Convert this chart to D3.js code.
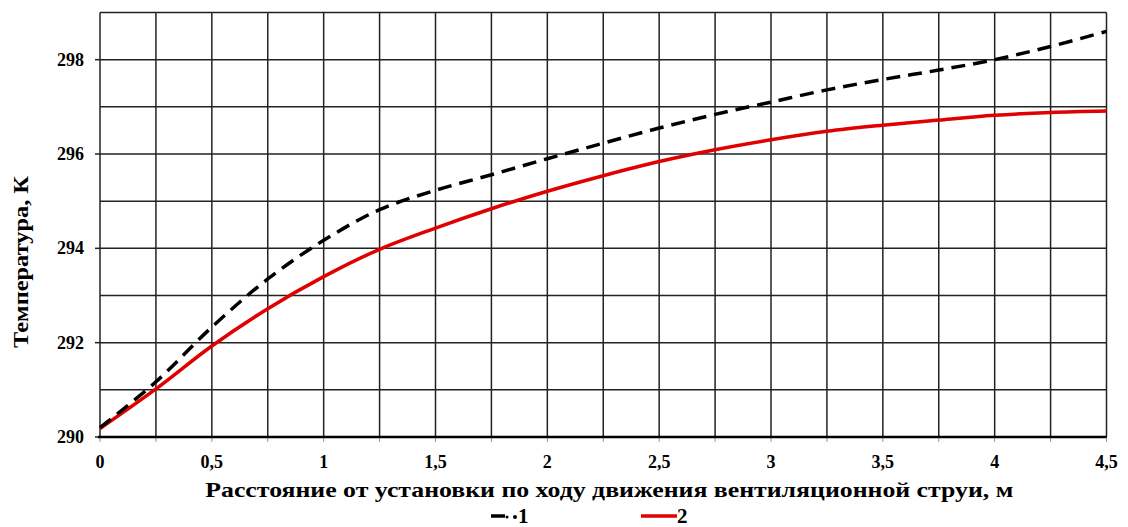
<!DOCTYPE html>
<html>
<head>
<meta charset="utf-8">
<script src="https://cdn.jsdelivr.net/npm/d3@7"></script>
<style>
  html, body { margin: 0; padding: 0; background: #fff; }
  svg text { font-family: "Liberation Serif", serif; font-weight: bold; fill: #000; }
</style>
</head>
<body>
<svg id="chart" width="1128" height="527"></svg>
<script>
// Distance from the unit along the ventilation jet, m
const distance = [0, 0.25, 0.5, 0.75, 1, 1.25, 1.5, 1.75, 2, 2.25, 2.5, 2.75, 3, 3.25, 3.5, 3.75, 4, 4.25, 4.5];
// Series 1 (dashed black), K
const series1 = [290.2, 291.17, 292.33, 293.35, 294.17, 294.82, 295.23, 295.56, 295.9, 296.23, 296.55, 296.84, 297.1, 297.36, 297.58, 297.78, 298.0, 298.28, 298.6];
// Series 2 (solid red), K
const series2 = [290.18, 291.02, 291.93, 292.72, 293.4, 293.98, 294.43, 294.84, 295.21, 295.54, 295.84, 296.09, 296.3, 296.48, 296.61, 296.72, 296.82, 296.88, 296.91];

const xTicks = [0, 0.5, 1, 1.5, 2, 2.5, 3, 3.5, 4, 4.5];
const xGrid = d3.range(0, 4.5001, 0.25);
const yTicks = [290, 292, 294, 296, 298];
const yGrid = d3.range(290, 299.001, 1);
const xTitle = "Расстояние от установки по ходу движения вентиляционной струи, м";
const yTitle = "Температура, К";
const legendLabels = ["1", "2"];

const svg = d3.select("#chart");
const plotL = 100, plotT = 12.5, plotR = 1106.5, plotB = 437;

const x = d3.scaleLinear().domain([0, 4.5]).range([plotL, plotR]);
const y = d3.scaleLinear().domain([290, 299]).range([plotB, plotT]);
const fmt = d => String(d).replace(".", ",");

// grid
const g = svg.append("g");
g.selectAll("line.v").data(xGrid).join("line")
  .attr("x1", d => x(d)).attr("x2", d => x(d))
  .attr("y1", plotT).attr("y2", plotB)
  .attr("stroke", "#222").attr("stroke-width", 1.5);
g.selectAll("line.h").data(yGrid).join("line")
  .attr("x1", plotL).attr("x2", plotR)
  .attr("y1", d => y(d)).attr("y2", d => y(d))
  .attr("stroke", "#222").attr("stroke-width", 1.5);

// y axis tick marks and labels
svg.append("g").selectAll("line").data(yTicks).join("line")
  .attr("x1", plotL - 5).attr("x2", plotL)
  .attr("y1", d => y(d)).attr("y2", d => y(d))
  .attr("stroke", "#222").attr("stroke-width", 1.5);
svg.append("g").selectAll("text").data(yTicks).join("text")
  .attr("x", 84).attr("y", d => y(d) + 6)
  .attr("text-anchor", "end").attr("font-size", 18)
  .text(d => d);

// x axis tick marks and labels
svg.append("g").selectAll("line").data(xGrid).join("line")
  .attr("x1", d => x(d)).attr("x2", d => x(d))
  .attr("y1", plotB).attr("y2", plotB + 5)
  .attr("stroke", "#999").attr("stroke-width", 1);
svg.append("g").selectAll("text").data(xTicks).join("text")
  .attr("x", d => x(d)).attr("y", 468)
  .attr("text-anchor", "middle").attr("font-size", 18)
  .text(d => fmt(d));

// bottom axis line
svg.append("line").attr("x1", plotL - 2).attr("x2", plotR)
  .attr("y1", plotB).attr("y2", plotB)
  .attr("stroke", "#000").attr("stroke-width", 2.5);

// curves
const line = (vals) => d3.line()
  .x((d, i) => x(distance[i]))
  .y(d => y(d))
  .curve(d3.curveCatmullRom.alpha(0.5))(vals);

svg.append("path").attr("d", line(series2))
  .attr("fill", "none").attr("stroke", "#e00000").attr("stroke-width", 3.5);
svg.append("path").attr("d", line(series1))
  .attr("fill", "none").attr("stroke", "#000").attr("stroke-width", 3.5)
  .attr("stroke-dasharray", "14,8");

// axis titles
svg.append("text")
  .attr("x", (plotL + plotR) / 2 + 6).attr("y", 497)
  .attr("text-anchor", "middle").attr("font-size", 22)
  .attr("textLength", 808).attr("lengthAdjust", "spacingAndGlyphs")
  .text(xTitle);
svg.append("text")
  .attr("transform", "translate(28,262) rotate(-90)")
  .attr("text-anchor", "middle").attr("font-size", 21)
  .attr("textLength", 172).attr("lengthAdjust", "spacingAndGlyphs")
  .text(yTitle);

// legend
const lg = svg.append("g");
lg.append("line").attr("x1", 491).attr("x2", 505).attr("y1", 516).attr("y2", 516)
  .attr("stroke", "#000").attr("stroke-width", 3.5);
lg.append("circle").attr("cx", 507).attr("cy", 517).attr("r", 1.5).attr("fill", "#000");
lg.append("circle").attr("cx", 515).attr("cy", 517).attr("r", 2).attr("fill", "#000");
lg.append("text").attr("x", 518).attr("y", 523).attr("font-size", 21).text(legendLabels[0]);
lg.append("line").attr("x1", 641).attr("x2", 677).attr("y1", 516).attr("y2", 516)
  .attr("stroke", "#e00000").attr("stroke-width", 3.5);
lg.append("text").attr("x", 677).attr("y", 523).attr("font-size", 21).text(legendLabels[1]);
</script>
</body>
</html>
